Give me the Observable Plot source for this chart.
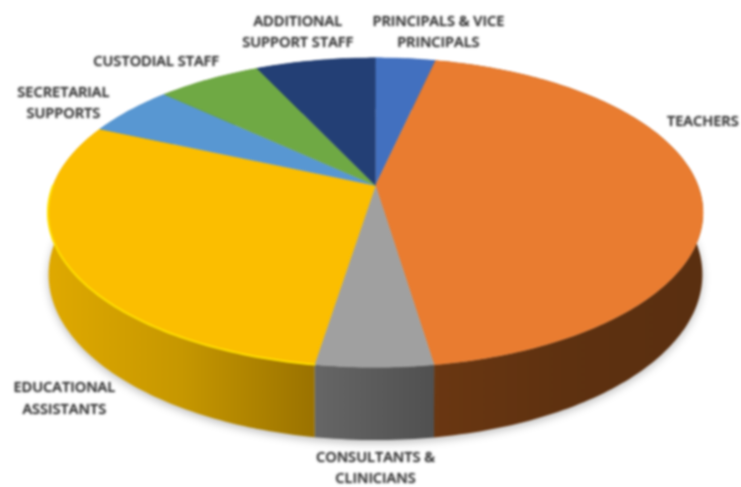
<!DOCTYPE html>
<html>
<head>
<meta charset="utf-8">
<script src="https://cdn.jsdelivr.net/npm/d3@7"></script>
<script src="https://cdn.jsdelivr.net/npm/@observablehq/plot@0.6"></script>
<style>
html,body{margin:0;padding:0;background:#fff}
#chart svg{display:block;filter:blur(0.9px)}
</style>
</head>
<body>
<div id="chart"></div>
<script>
// Data: share of staff (percent), clockwise from 12 o'clock
const categories = ["PRINCIPALS & VICE\nPRINCIPALS","TEACHERS","CONSULTANTS &\nCLINICIANS","EDUCATIONAL\nASSISTANTS","SECRETARIAL\nSUPPORTS","CUSTODIAL STAFF","ADDITIONAL\nSUPPORT STAFF"];
const shares = [3.5, 44.1, 4.9, 29.1, 5.3, 6.1, 7.0];
const topColors = ["#4270BF","#E97C30","#A0A0A0","#FBBE00","#5897D2","#6FA944","#233F75"];
const wallStops = [
  ["#3a62a8","#2c4c85"],
  ["#6a3712","#5e3110","#5a2f10"],
  ["#666666","#505050"],
  ["#dfa900","#c69700","#9a7200"],
  ["#4d84b6","#3c6a92"],
  ["#5f933c","#4a742f"],
  ["#20396a","#18305a"]
];

// Layout of the tilted disc (unit coordinates, through the x and y scales)
const persp = 0.175, depth = 0.40, taper = 0.998;
const labelSpot = [[0.195,1.04],[1.015,0.445],[0,-1.868],[-0.965,-1.405],[-0.968,0.568],[-0.68,0.84],[-0.241,1.04]];

const total = d3.sum(shares);
const cum = d3.cumsum(shares);
const ang = i => [(i ? cum[i-1] : 0) / total * 2 * Math.PI, cum[i] / total * 2 * Math.PI];
const proj = (a, low = false) => {
  const u = Math.sin(a), v = Math.cos(a), s = 1 / (1 + persp * v);
  return low ? {x: u * s * taper, y: (v - depth) * s} : {x: u * s, y: v * s};
};
const arc = (a0, a1) => {
  const n = Math.max(2, Math.ceil((a1 - a0) / (Math.PI / 180)));
  return d3.range(n + 1).map(i => a0 + (a1 - a0) * i / n);
};

const slices = categories.flatMap((c, i) => {
  const [a0, a1] = ang(i);
  return [{k: c, x: 0, y: 0}, ...arc(a0, a1).map(a => ({k: c, ...proj(a)}))];
});
const wall = i => {
  const [a0, a1] = ang(i), as = arc(a0, a1);
  return [...as.map(a => proj(a)), ...as.slice().reverse().map(a => proj(a, true))];
};
const full = arc(0, 2 * Math.PI).map(a => proj(a, true));
const eaRim = (() => { const [a0, a1] = ang(3); return arc(a0, Math.PI * 1.5).map(a => proj(a)); })();

const labelRows = categories.map((c, i) => ({t: c, x: labelSpot[i][0], y: labelSpot[i][1]}));

const defs = () => {
  const ns = "http://www.w3.org/2000/svg";
  const d = document.createElementNS(ns, "defs");
  wallStops.forEach((st, i) => {
    const g = document.createElementNS(ns, "linearGradient");
    g.setAttribute("id", "wall" + i);
    st.forEach((col, j) => {
      const s = document.createElementNS(ns, "stop");
      s.setAttribute("offset", j / (st.length - 1));
      s.setAttribute("stop-color", col);
      g.appendChild(s);
    });
    d.appendChild(g);
  });
  return d;
};

const A = 322.5, B = 150, cx = 375, cy = 185;
const chart = Plot.plot({
  width: 741, height: 487, margin: 0,
  x: {axis: null, domain: [-cx / A, (741 - cx) / A], range: [0, 741]},
  y: {axis: null, domain: [cy / B, (cy - 487) / B], range: [0, 487]},
  color: {type: "ordinal", domain: categories, range: topColors},
  marks: [
    defs,
    Plot.line(full, {x: "x", y: "y", fill: "#000", stroke: "none", fillOpacity: 0.25, dy: 3, imageFilter: "blur(4px)"}),
    ...categories.map((c, i) => Plot.line(wall(i), {x: "x", y: "y", fill: `url(#wall${i})`, stroke: "none"})),
    Plot.line(slices, {x: "x", y: "y", z: "k", fill: "k", stroke: "k", strokeWidth: 0.4}),
    Plot.line(eaRim, {x: "x", y: "y", stroke: "#ffdf00", strokeWidth: 2}),
    Plot.text(labelRows, {x: "x", y: "y", text: "t", fontFamily: "Open Sans", fontWeight: 600, fontSize: 14.6, lineHeight: 1.45, fill: "#3a3a3a", letterSpacing: -0.3, imageFilter: "drop-shadow(0 0 1px rgba(0,0,0,.45))"})
  ]
});
document.getElementById("chart").appendChild(chart);
</script>
</body>
</html>
